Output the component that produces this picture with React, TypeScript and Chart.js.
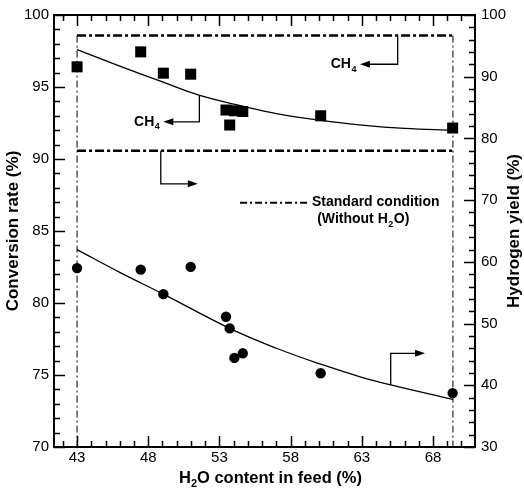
import React, { useEffect, useRef } from 'react';
import { Chart, registerables } from 'chart.js';

Chart.register(...registerables);

// ---- data ----
const waterContent = [43, 47.47, 49.06, 50.98, 53.46, 53.72, 54.05, 54.64, 60.11, 69.38];
const ch4Conversion = [96.4, 97.44, 95.96, 95.89, 93.4, 92.36, 93.35, 93.3, 93.0, 92.15];
const h2Yield = [58.99, 58.74, 54.77, 59.18, 51.1, 49.22, 44.43, 45.18, 41.95, 38.73];

const ch4FitX = [43, 46, 49, 51.5, 54.7, 57, 60, 63, 66, 69.4];
const ch4FitY = [97.6, 96.45, 95.35, 94.45, 93.65, 93.15, 92.7, 92.35, 92.12, 92.0];
const h2FitX = [43, 46, 49.06, 53.72, 57, 60.06, 63, 65.03, 69.4];
const h2FitY = [61.99, 58.3, 54.77, 49.22, 46.0, 43.46, 41.3, 40.06, 37.7];

const standardCH4 = 98.57; // left axis, standard condition (without H2O)
const standardH2 = 78.0; // right axis, standard condition (without H2O)
const standardRange = [43, 69.4];

const xTicks = [43, 48, 53, 58, 63, 68];
const yLeftTicks = [70, 75, 80, 85, 90, 95, 100];
const yRightTicks = [30, 40, 50, 60, 70, 80, 90, 100];

// ---- annotation layout (data coordinates) ----
const arrows = [
  { axis: 'y', pts: [[65.52, standardCH4], [65.52, 96.58], [62.87, 96.58]], label: true },
  { axis: 'y', pts: [[51.59, 94.44], [51.59, 92.58], [49.06, 92.58]], label: true },
  { axis: 'y2', pts: [[48.88, standardH2], [48.88, 72.65], [51.48, 72.65]], label: false },
  { axis: 'y2', pts: [[65.03, 40.06], [65.03, 45.18], [67.44, 45.18]], label: false },
];

const FONT = "'Liberation Sans', Arial, Helvetica, sans-serif";
const DASH_DOT = [9, 3, 3, 3];

const overlay = {
  id: 'overlay',
  afterDatasetsDraw(chart: any) {
    const ctx = chart.ctx as CanvasRenderingContext2D;
    const { left, right, top, bottom } = chart.chartArea;
    const xs = chart.scales.x;
    const yl = chart.scales.y;
    const yr = chart.scales.y2;
    ctx.save();
    ctx.strokeStyle = '#000';
    ctx.fillStyle = '#000';

    // frame
    ctx.lineWidth = 2;
    ctx.strokeRect(left, top, right - left, bottom - top);

    // tick marks (inward)
    ctx.lineWidth = 1.5;
    ctx.beginPath();
    for (let v = 42; v <= 70; v++) {
      const px = Math.round(xs.getPixelForValue(v)) + 0.5;
      const len = xTicks.includes(v) ? 11 : 6;
      ctx.moveTo(px, bottom);
      ctx.lineTo(px, bottom - len);
      ctx.moveTo(px, top);
      ctx.lineTo(px, top + len);
    }
    for (let v = 70; v <= 100; v++) {
      const py = Math.round(yl.getPixelForValue(v)) + 0.5;
      const len = yLeftTicks.includes(v) ? 11 : 6;
      ctx.moveTo(left, py);
      ctx.lineTo(left + len, py);
    }
    for (let v = 30; v <= 100; v += 2) {
      const py = Math.round(yr.getPixelForValue(v)) + 0.5;
      const len = yRightTicks.includes(v) ? 11 : 6;
      ctx.moveTo(right, py);
      ctx.lineTo(right - len, py);
    }
    ctx.stroke();

    // arrows
    const drawCH4 = (xRight: number, y: number) => {
      ctx.font = `bold 14px ${FONT}`;
      const wCH = ctx.measureText('CH').width;
      ctx.font = `bold 9px ${FONT}`;
      const w4 = ctx.measureText('4').width;
      const x0 = xRight - wCH - w4 - 1;
      ctx.textBaseline = 'middle';
      ctx.textAlign = 'left';
      ctx.font = `bold 14px ${FONT}`;
      ctx.fillText('CH', x0, y);
      ctx.font = `bold 9px ${FONT}`;
      ctx.fillText('4', x0 + wCH + 0.5, y + 5);
    };

    arrows.forEach((a) => {
      const ys = a.axis === 'y' ? yl : yr;
      const p = a.pts.map(([vx, vy]) => [xs.getPixelForValue(vx), ys.getPixelForValue(vy)]);
      ctx.lineWidth = 1.3;
      ctx.setLineDash([]);
      ctx.beginPath();
      ctx.moveTo(p[0][0], p[0][1]);
      ctx.lineTo(p[1][0], p[1][1]);
      const dir = Math.sign(p[2][0] - p[1][0]);
      ctx.lineTo(p[2][0] - dir * 8, p[2][1]);
      ctx.stroke();
      ctx.beginPath();
      ctx.moveTo(p[2][0], p[2][1]);
      ctx.lineTo(p[2][0] - dir * 10, p[2][1] - 3.5);
      ctx.lineTo(p[2][0] - dir * 10, p[2][1] + 3.5);
      ctx.closePath();
      ctx.fill();
      if (a.label) drawCH4(p[2][0] - 3, p[2][1]);
    });

    // legend for standard condition
    const ly = yl.getPixelForValue(86.97);
    const lx0 = xs.getPixelForValue(54.45);
    const lx1 = xs.getPixelForValue(59.22);
    ctx.lineWidth = 2;
    ctx.setLineDash([7, 3, 2, 3]);
    ctx.beginPath();
    ctx.moveTo(lx0, ly);
    ctx.lineTo(lx1, ly);
    ctx.stroke();
    ctx.setLineDash([]);
    ctx.font = `bold 14px ${FONT}`;
    ctx.textBaseline = 'middle';
    ctx.textAlign = 'left';
    ctx.fillText('Standard condition', lx1 + 4, ly);
    // (Without H2O)
    {
      const cx = xs.getPixelForValue(63.1);
      const y2 = ly + 17;
      ctx.font = `bold 14px ${FONT}`;
      const a1 = '(Without H';
      const a2 = 'O)';
      const w1 = ctx.measureText(a1).width;
      const w3 = ctx.measureText(a2).width;
      ctx.font = `bold 9px ${FONT}`;
      const w2 = ctx.measureText('2').width;
      const x0 = cx - (w1 + w2 + w3 + 1) / 2;
      ctx.font = `bold 14px ${FONT}`;
      ctx.fillText(a1, x0, y2);
      ctx.font = `bold 9px ${FONT}`;
      ctx.fillText('2', x0 + w1 + 0.5, y2 + 5);
      ctx.font = `bold 14px ${FONT}`;
      ctx.fillText(a2, x0 + w1 + w2 + 1, y2);
    }

    // axis titles
    ctx.font = `bold 17px ${FONT}`;
    ctx.textAlign = 'center';
    ctx.textBaseline = 'middle';
    const midY = (top + bottom) / 2;
    ctx.save();
    ctx.translate(13, midY);
    ctx.rotate(-Math.PI / 2);
    ctx.fillText('Conversion rate (%)', 0, 0);
    ctx.restore();
    ctx.save();
    ctx.translate(514, midY);
    ctx.rotate(-Math.PI / 2);
    ctx.fillText('Hydrogen yield (%)', 0, 0);
    ctx.restore();

    // x title with subscript
    {
      const cx = (left + right) / 2 + 6;
      const ty = 478;
      ctx.textAlign = 'left';
      ctx.font = `bold 16.5px ${FONT}`;
      const t1 = 'H';
      const t3 = 'O content in feed (%)';
      const w1 = ctx.measureText(t1).width;
      const w3 = ctx.measureText(t3).width;
      ctx.font = `bold 11px ${FONT}`;
      const w2 = ctx.measureText('2').width;
      const x0 = cx - (w1 + w2 + w3) / 2;
      ctx.font = `bold 16.5px ${FONT}`;
      ctx.fillText(t1, x0, ty);
      ctx.font = `bold 11px ${FONT}`;
      ctx.fillText('2', x0 + w1, ty + 6);
      ctx.font = `bold 16.5px ${FONT}`;
      ctx.fillText(t3, x0 + w1 + w2, ty);
    }
    ctx.restore();
  },
};

export default function App() {
  const canvasRef = useRef<HTMLCanvasElement | null>(null);

  useEffect(() => {
    const canvas = canvasRef.current;
    if (!canvas) return;
    const tickFont = { family: FONT, size: 15 };
    const chart = new Chart(canvas, {
      type: 'scatter',
      data: {
        datasets: [
          {
            label: 'CH4 conversion',
            data: waterContent.map((x, i) => ({ x, y: ch4Conversion[i] })),
            yAxisID: 'y',
            pointStyle: 'rect',
            pointRadius: 7.8,
            backgroundColor: '#000',
            borderColor: '#000',
            borderWidth: 0,
          },
          {
            label: 'Hydrogen yield',
            data: waterContent.map((x, i) => ({ x, y: h2Yield[i] })),
            yAxisID: 'y2',
            pointStyle: 'circle',
            pointRadius: 5.2,
            backgroundColor: '#000',
            borderColor: '#000',
            borderWidth: 0,
          },
          {
            label: 'CH4 fit',
            data: ch4FitX.map((x, i) => ({ x, y: ch4FitY[i] })),
            yAxisID: 'y',
            showLine: true,
            pointRadius: 0,
            borderColor: '#000',
            borderWidth: 1.3,
            tension: 0.4,
          },
          {
            label: 'H2 fit',
            data: h2FitX.map((x, i) => ({ x, y: h2FitY[i] })),
            yAxisID: 'y2',
            showLine: true,
            pointRadius: 0,
            borderColor: '#000',
            borderWidth: 1.3,
            tension: 0.4,
          },
          {
            label: 'Standard CH4',
            data: standardRange.map((x) => ({ x, y: standardCH4 })),
            yAxisID: 'y',
            showLine: true,
            pointRadius: 0,
            borderColor: '#000',
            borderWidth: 2.5,
            borderDash: DASH_DOT,
          },
          {
            label: 'Standard H2',
            data: standardRange.map((x) => ({ x, y: standardH2 })),
            yAxisID: 'y2',
            showLine: true,
            pointRadius: 0,
            borderColor: '#000',
            borderWidth: 2.5,
            borderDash: DASH_DOT,
          },
          {
            label: 'Bound left',
            data: [
              { x: standardRange[0], y: standardCH4 },
              { x: standardRange[0], y: 70 },
            ],
            yAxisID: 'y',
            showLine: true,
            pointRadius: 0,
            borderColor: '#000',
            borderWidth: 1,
            borderDash: [7, 3, 2, 3],
          },
          {
            label: 'Bound right',
            data: [
              { x: standardRange[1], y: standardCH4 },
              { x: standardRange[1], y: 70 },
            ],
            yAxisID: 'y',
            showLine: true,
            pointRadius: 0,
            borderColor: '#000',
            borderWidth: 1,
            borderDash: [7, 3, 2, 3],
          },
        ],
      },
      options: {
        responsive: false,
        animation: false,
        layout: { padding: { top: 14, left: 0, right: 0, bottom: 0 } },
        plugins: { legend: { display: false }, tooltip: { enabled: false } },
        scales: {
          x: {
            type: 'linear',
            min: 41.38,
            max: 70.95,
            grid: { display: false, drawTicks: false },
            border: { display: false },
            ticks: { font: tickFont, color: '#000', padding: 2, maxRotation: 0 },
            afterBuildTicks: (s: any) => {
              s.ticks = xTicks.map((v) => ({ value: v }));
            },
            afterFit: (s: any) => {
              s.height = 44;
            },
          },
          y: {
            type: 'linear',
            position: 'left',
            min: 70,
            max: 100,
            grid: { display: false, drawTicks: false },
            border: { display: false },
            ticks: { font: tickFont, color: '#000', padding: 5 },
            afterBuildTicks: (s: any) => {
              s.ticks = yLeftTicks.map((v) => ({ value: v }));
            },
            afterFit: (s: any) => {
              s.width = 54;
            },
          },
          y2: {
            type: 'linear',
            position: 'right',
            min: 30,
            max: 100,
            grid: { display: false, drawTicks: false },
            border: { display: false },
            ticks: { font: tickFont, color: '#000', padding: 6 },
            afterBuildTicks: (s: any) => {
              s.ticks = yRightTicks.map((v) => ({ value: v }));
            },
            afterFit: (s: any) => {
              s.width = 49;
            },
          },
        },
      },
      plugins: [overlay],
    } as any);
    return () => chart.destroy();
  }, []);

  return (
    <div style={{ position: 'fixed', left: 0, top: 0, width: 524, height: 491, background: '#fff' }}>
      <canvas ref={canvasRef} width={524} height={491} style={{ display: 'block' }} />
    </div>
  );
}
